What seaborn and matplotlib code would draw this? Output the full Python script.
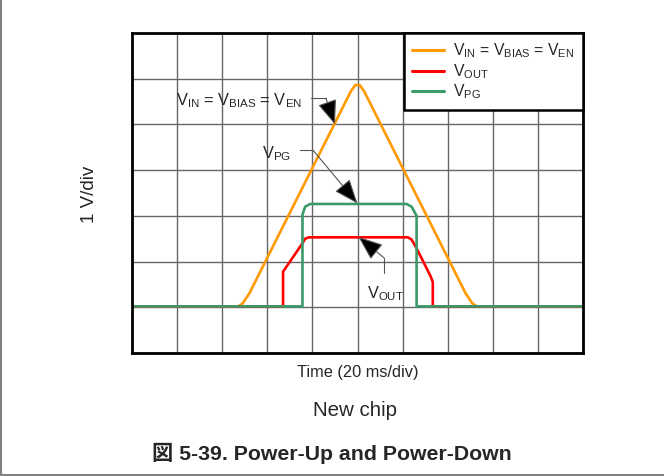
import numpy as np
import pandas as pd
import matplotlib.pyplot as plt
import seaborn as sns
from matplotlib.lines import Line2D

# traces, in scope divisions (x: 20 ms/div, y: 1 V/div)
vin_t = [0, 2.35, 2.45, 2.6, 4.85, 4.95, 5.05, 5.15, 7.4, 7.55, 7.65, 10]
vin_v = [1.02, 1.02, 1.08, 1.3, 5.72, 5.86, 5.86, 5.72, 1.3, 1.08, 1.02, 1.02]
vout_t = [0, 3.35, 3.35, 3.78, 3.84, 3.92, 6.12, 6.2, 6.31, 6.62, 6.67, 6.67, 10]
vout_v = [1.02, 1.02, 1.78, 2.40, 2.50, 2.53, 2.53, 2.48, 2.29, 1.68, 1.55, 1.02, 1.02]
vpg_t = [0, 3.78, 3.78, 3.84, 3.95, 6.09, 6.2, 6.31, 6.31, 10]
vpg_v = [1.02, 1.02, 3.03, 3.2, 3.26, 3.26, 3.2, 3.0, 1.02, 1.02]

lab_vin = r'V$_\mathregular{IN}$ = V$_\mathregular{BIAS}$ = V$_\mathregular{EN}$'
lab_vout = r'V$_\mathregular{OUT}$'
lab_vpg = r'V$_\mathregular{PG}$'
colors = {'vin': '#FF9900', 'vout': '#FF0000', 'vpg': '#3A9A68'}

df = pd.concat([
    pd.DataFrame({'t': vin_t, 'v': vin_v, 'sig': 'vin'}),
    pd.DataFrame({'t': vout_t, 'v': vout_v, 'sig': 'vout'}),
    pd.DataFrame({'t': vpg_t, 'v': vpg_v, 'sig': 'vpg'}),
])

sns.set_style('white')
plt.rcParams['font.family'] = ['Liberation Sans', 'Noto Sans CJK JP']
plt.rcParams['mathtext.fontset'] = 'custom'
plt.rcParams['mathtext.rm'] = 'Liberation Sans'

fig = plt.figure(figsize=(6.64, 4.76), dpi=100)
ax = fig.add_axes([132 / 664, 1 - 353 / 476, 451 / 664, 320 / 476])

sns.lineplot(data=df, x='t', y='v', hue='sig', palette=colors, sort=False,
             estimator=None, linewidth=1.9, legend=False, ax=ax)

ax.set_xlim(0, 10)
ax.set_ylim(0, 7)
ax.set_xticks(np.arange(0, 11))
ax.set_yticks(np.arange(0, 8))
ax.tick_params(length=0, labelbottom=False, labelleft=False)
ax.grid(True, color='#666666', linewidth=1)
ax.set_axisbelow(True)
ax.set_xlabel('')
ax.set_ylabel('')
for s in ax.spines.values():
    s.set_color('black')
    s.set_linewidth(2)

# callouts
arrow = dict(arrowstyle='-|>,head_length=1.4,head_width=0.55', mutation_scale=11,
             ec='#555555', fc='black', lw=0.8, shrinkA=0, shrinkB=0)
ax.text(0.98, 5.52, lab_vin, fontsize=11.8, va='center')
ax.plot([3.98, 4.3], [5.57, 5.57], color='#555555', lw=0.8)
ax.annotate('', xy=(4.5, 5.0), xytext=(4.3, 5.57), arrowprops=arrow)

ax.text(2.88, 4.36, lab_vpg, fontsize=11.8, va='center')
ax.plot([3.72, 4.02], [4.43, 4.43], color='#555555', lw=0.8)
ax.annotate('', xy=(5.0, 3.27), xytext=(4.02, 4.43), arrowprops=arrow)

ax.text(5.2, 1.3, lab_vout, fontsize=11.8, va='center')
ax.plot([5.59, 5.59], [1.75, 2.08], color='#555555', lw=0.8)
ax.annotate('', xy=(5.02, 2.54), xytext=(5.59, 2.08), arrowprops=arrow)

handles = [Line2D([], [], color=colors[k], lw=2.2) for k in ['vin', 'vout', 'vpg']]
leg = ax.legend(handles, [lab_vin, lab_vout, lab_vpg], loc='upper right',
                bbox_to_anchor=(1, 1), borderaxespad=0, fontsize=11.3,
                fancybox=False, framealpha=1, labelspacing=0.12,
                handlelength=2.0, handletextpad=0.6, borderpad=0.55)
leg.get_frame().set_edgecolor('black')
leg.get_frame().set_linewidth(1.8)

fig.text(90 / 664, 1 - 194 / 476, '1 V/div', rotation=90, fontsize=13.5,
         ha='center', va='center')
fig.text(358 / 664, 1 - 373 / 476, 'Time (20 ms/div)', fontsize=11.8,
         ha='center', va='center')
fig.text(355 / 664, 1 - 410 / 476, 'New chip', fontsize=14.8,
         ha='center', va='center')
fig.text(332 / 664, 1 - 453 / 476, '図 5-39. Power-Up and Power-Down',
         fontsize=15.3, fontweight='bold', ha='center', va='center')

# page frame on left and bottom
fig.add_artist(Line2D([0.002, 0.002], [0.003, 1], color='#808080', lw=1.5))
fig.add_artist(Line2D([0.002, 1], [0.003, 0.003], color='#808080', lw=1.5))

fig.savefig('out.png', dpi=100)
